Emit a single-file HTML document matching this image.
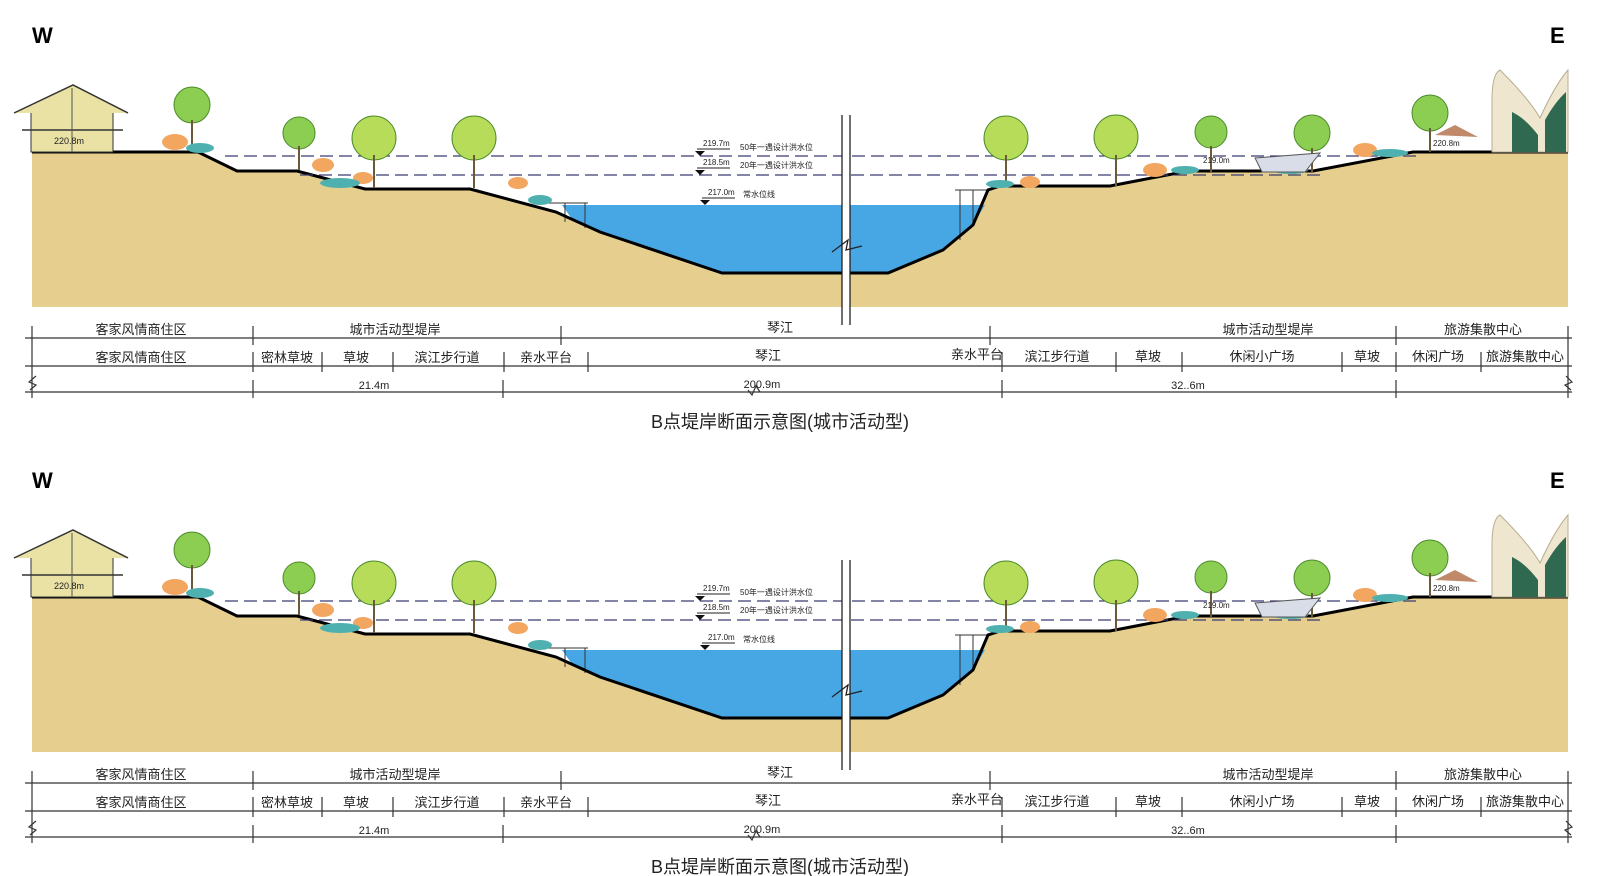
<!DOCTYPE html>
<html><head><meta charset="utf-8"><style>
html,body{margin:0;padding:0;background:#fff;}
svg{display:block;}
text{font-family:"Liberation Sans","Noto Sans CJK SC",sans-serif;}
</style></head><body>
<svg width="1600" height="876" viewBox="0 0 1600 876" xmlns="http://www.w3.org/2000/svg">
<defs>
<g id="sec">
  <text x="32" y="43" font-size="22" font-weight="bold" fill="#000">W</text>
  <text x="1550" y="43" font-size="22" font-weight="bold" fill="#000">E</text>
  <!-- sand -->
  <path d="M32,152 L198,152 L237,171 L297,171 L365,189 L470,189 L556,212 L600,232 L722,273 L888,273 L943,250 L973,225 L988,190 L1000,186 L1110,186 L1188,171 L1313,171 L1413,152 L1568,152 L1568,307 L32,307 Z" fill="#e6cf8e"/>
  <!-- water -->
  <path d="M562,205 L985,205 L973,225 L943,250 L888,273 L722,273 L600,232 L572,219 Z" fill="#47a6e4"/>
  <!-- docks -->
  <g stroke="#333" stroke-width="1" fill="none">
    <line x1="548" y1="203" x2="588" y2="203"/><line x1="565" y1="203" x2="565" y2="222"/><line x1="585" y1="203" x2="585" y2="228"/>
    <line x1="955" y1="190" x2="990" y2="190"/><line x1="960" y1="190" x2="960" y2="240"/><line x1="973" y1="190" x2="973" y2="225"/>
  </g>
  <!-- profile line -->
  <path d="M32,152 L198,152 L237,171 L297,171 L365,189 L470,189 L556,212 L600,232 L722,273 L888,273 L943,250 L973,225 L988,190 L1000,186 L1110,186 L1188,171 L1313,171 L1413,152 L1568,152" fill="none" stroke="#000" stroke-width="3"/>
  <!-- dashed flood lines -->
  <line x1="225" y1="156" x2="1420" y2="156" stroke="#3a3a70" stroke-width="1.3" stroke-dasharray="13,6"/>
  <line x1="300" y1="175" x2="1320" y2="175" stroke="#3a3a70" stroke-width="1.3" stroke-dasharray="13,6"/>
  <!-- break -->
  <rect x="842" y="115" width="8" height="210" fill="#fff"/>
  <line x1="842" y1="115" x2="842" y2="325" stroke="#222" stroke-width="1.3"/>
  <line x1="850" y1="115" x2="850" y2="325" stroke="#222" stroke-width="1.3"/>
  <path d="M832,252 L848,240 L846,250 L862,246" fill="none" stroke="#222" stroke-width="1.3"/>
  <!-- level labels -->
  <g font-size="8" fill="#222">
    <text x="703" y="146">219.7m</text><line x1="697" y1="149" x2="730" y2="149" stroke="#222"/>
    <path d="M695,151 L705,151 L700,156Z" fill="#111"/>
    <text x="740" y="150">50年一遇设计洪水位</text>
    <text x="703" y="165">218.5m</text><line x1="697" y1="168" x2="730" y2="168" stroke="#222"/>
    <path d="M695,170 L705,170 L700,175Z" fill="#111"/>
    <text x="740" y="168">20年一遇设计洪水位</text>
    <text x="708" y="195">217.0m</text><line x1="702" y1="198" x2="735" y2="198" stroke="#222"/>
    <path d="M700,200 L710,200 L705,205Z" fill="#111"/>
    <text x="743" y="197">常水位线</text>
  </g>
  <!-- left house -->
  <rect x="31" y="105" width="82" height="47" fill="#e9e2a4" stroke="#333"/>
  <path d="M14,113 L73,85 L128,113" fill="#e9e2a4" stroke="#333" stroke-width="1.5"/>
  <line x1="22" y1="130" x2="123" y2="130" stroke="#333" stroke-width="1.5"/>
  <line x1="72" y1="88" x2="72" y2="152" stroke="#555"/>
  <text x="54" y="144" font-size="9" fill="#222">220.8m</text>
  <!-- trees -->
  <g fill="#8cce52" stroke="#4c8a2a" stroke-width="1">
    <circle cx="192" cy="105" r="18"/><circle cx="299" cy="133" r="16"/>
    <circle cx="374" cy="138" r="22" fill="#b6dc5a"/><circle cx="474" cy="138" r="22" fill="#b6dc5a"/>
    <circle cx="1006" cy="138" r="22" fill="#b6dc5a"/><circle cx="1116" cy="137" r="22" fill="#b6dc5a"/>
    <circle cx="1211" cy="132" r="16"/><circle cx="1312" cy="133" r="18"/>
    <circle cx="1430" cy="113" r="18"/>
  </g>
  <g stroke="#6a5a3a" stroke-width="2">
    <line x1="192" y1="120" x2="192" y2="150"/><line x1="299" y1="146" x2="299" y2="170"/>
    <line x1="374" y1="155" x2="374" y2="188"/><line x1="474" y1="155" x2="474" y2="188"/>
    <line x1="1006" y1="155" x2="1006" y2="186"/><line x1="1116" y1="155" x2="1116" y2="186"/>
    <line x1="1211" y1="146" x2="1211" y2="172"/><line x1="1312" y1="148" x2="1312" y2="172"/>
    <line x1="1430" y1="128" x2="1430" y2="152"/>
  </g>
  <!-- shrubs -->
  <g fill="#f2a660">
    <ellipse cx="175" cy="142" rx="13" ry="8"/><ellipse cx="323" cy="165" rx="11" ry="7"/>
    <ellipse cx="518" cy="183" rx="10" ry="6"/><ellipse cx="363" cy="178" rx="10" ry="6"/>
    <ellipse cx="1030" cy="182" rx="10" ry="6"/><ellipse cx="1155" cy="170" rx="12" ry="7"/>
    <ellipse cx="1365" cy="150" rx="12" ry="7"/>
  </g>
  <g fill="#4fb0b0">
    <ellipse cx="200" cy="148" rx="14" ry="5"/><ellipse cx="340" cy="183" rx="20" ry="5"/>
    <ellipse cx="540" cy="200" rx="12" ry="5"/><ellipse cx="1000" cy="184" rx="14" ry="4"/>
    <ellipse cx="1185" cy="170" rx="14" ry="4"/><ellipse cx="1290" cy="170" rx="18" ry="4"/>
    <ellipse cx="1390" cy="153" rx="18" ry="4"/>
  </g>
  <!-- pavilion -->
  <path d="M1255,158 L1320,153 L1305,172 L1262,172 Z" fill="#d8dde8" stroke="#555"/>
  <path d="M1435,135 L1455,125 L1478,137Z" fill="#c08a6a"/>
  <text x="1433" y="146" font-size="8" fill="#222">220.8m</text>
  <text x="1203" y="163" font-size="8" fill="#222">219.0m</text>
  <!-- right building -->
  <path d="M1492,152 L1492,100 Q1492,74 1500,70 Q1530,100 1540,118 Q1555,85 1568,70 L1568,152Z" fill="#efe6cf" stroke="#b8ad90"/>
  <path d="M1512,152 L1512,112 Q1525,118 1538,135 L1538,152Z" fill="#2f6a50"/>
  <path d="M1545,152 L1545,120 Q1555,102 1566,92 L1566,152Z" fill="#2f6a50"/>
  <!-- table -->
  <g stroke="#333" stroke-width="1.2" fill="none">
    <line x1="25" y1="338" x2="1572" y2="338"/>
    <line x1="25" y1="366" x2="1572" y2="366"/>
    <line x1="25" y1="392" x2="1572" y2="392"/>
    <line x1="32" y1="326" x2="32" y2="398"/>
    <line x1="1568" y1="326" x2="1568" y2="398"/>
    <line x1="253" y1="326" x2="253" y2="345"/><line x1="561" y1="326" x2="561" y2="345"/>
    <line x1="990" y1="326" x2="990" y2="345"/><line x1="1396" y1="326" x2="1396" y2="345"/>
    <line x1="253" y1="352" x2="253" y2="372"/><line x1="322" y1="352" x2="322" y2="372"/>
    <line x1="393" y1="352" x2="393" y2="372"/><line x1="504" y1="352" x2="504" y2="372"/>
    <line x1="588" y1="352" x2="588" y2="372"/><line x1="1002" y1="352" x2="1002" y2="372"/>
    <line x1="1116" y1="352" x2="1116" y2="372"/><line x1="1182" y1="352" x2="1182" y2="372"/>
    <line x1="1342" y1="352" x2="1342" y2="372"/><line x1="1396" y1="352" x2="1396" y2="372"/>
    <line x1="1481" y1="352" x2="1481" y2="372"/>
    <line x1="253" y1="380" x2="253" y2="398"/><line x1="503" y1="380" x2="503" y2="398"/>
    <line x1="1002" y1="380" x2="1002" y2="398"/><line x1="1396" y1="380" x2="1396" y2="398"/>
    <path d="M36,376 L29,382 L36,385 L30,390"/>
    <path d="M1566,376 L1572,382 L1565,385 L1571,390"/>
    <path d="M748,390 L752,395 L756,386 L760,392"/>
  </g>
  <g font-size="13" fill="#222" text-anchor="middle">
    <text x="141" y="334">客家风情商住区</text>
    <text x="395" y="334">城市活动型堤岸</text>
    <text x="780" y="332">琴江</text>
    <text x="1268" y="334">城市活动型堤岸</text>
    <text x="1483" y="334">旅游集散中心</text>
    <text x="141" y="362">客家风情商住区</text>
    <text x="287" y="362">密林草坡</text>
    <text x="356" y="362">草坡</text>
    <text x="447" y="362">滨江步行道</text>
    <text x="546" y="362">亲水平台</text>
    <text x="768" y="360">琴江</text>
    <text x="977" y="359">亲水平台</text>
    <text x="1057" y="361">滨江步行道</text>
    <text x="1148" y="361">草坡</text>
    <text x="1262" y="361">休闲小广场</text>
    <text x="1367" y="361">草坡</text>
    <text x="1438" y="361">休闲广场</text>
    <text x="1525" y="361">旅游集散中心</text>
    <text x="374" y="389" font-size="11">21.4m</text>
    <text x="762" y="388" font-size="11">200.9m</text>
    <text x="1188" y="389" font-size="11">32..6m</text>
  </g>
  <text x="780" y="428" font-size="18" fill="#222" text-anchor="middle">B点堤岸断面示意图(城市活动型)</text>
</g>
</defs>
<use href="#sec"/>
<use href="#sec" transform="translate(0,445)"/>
</svg>
</body></html>
